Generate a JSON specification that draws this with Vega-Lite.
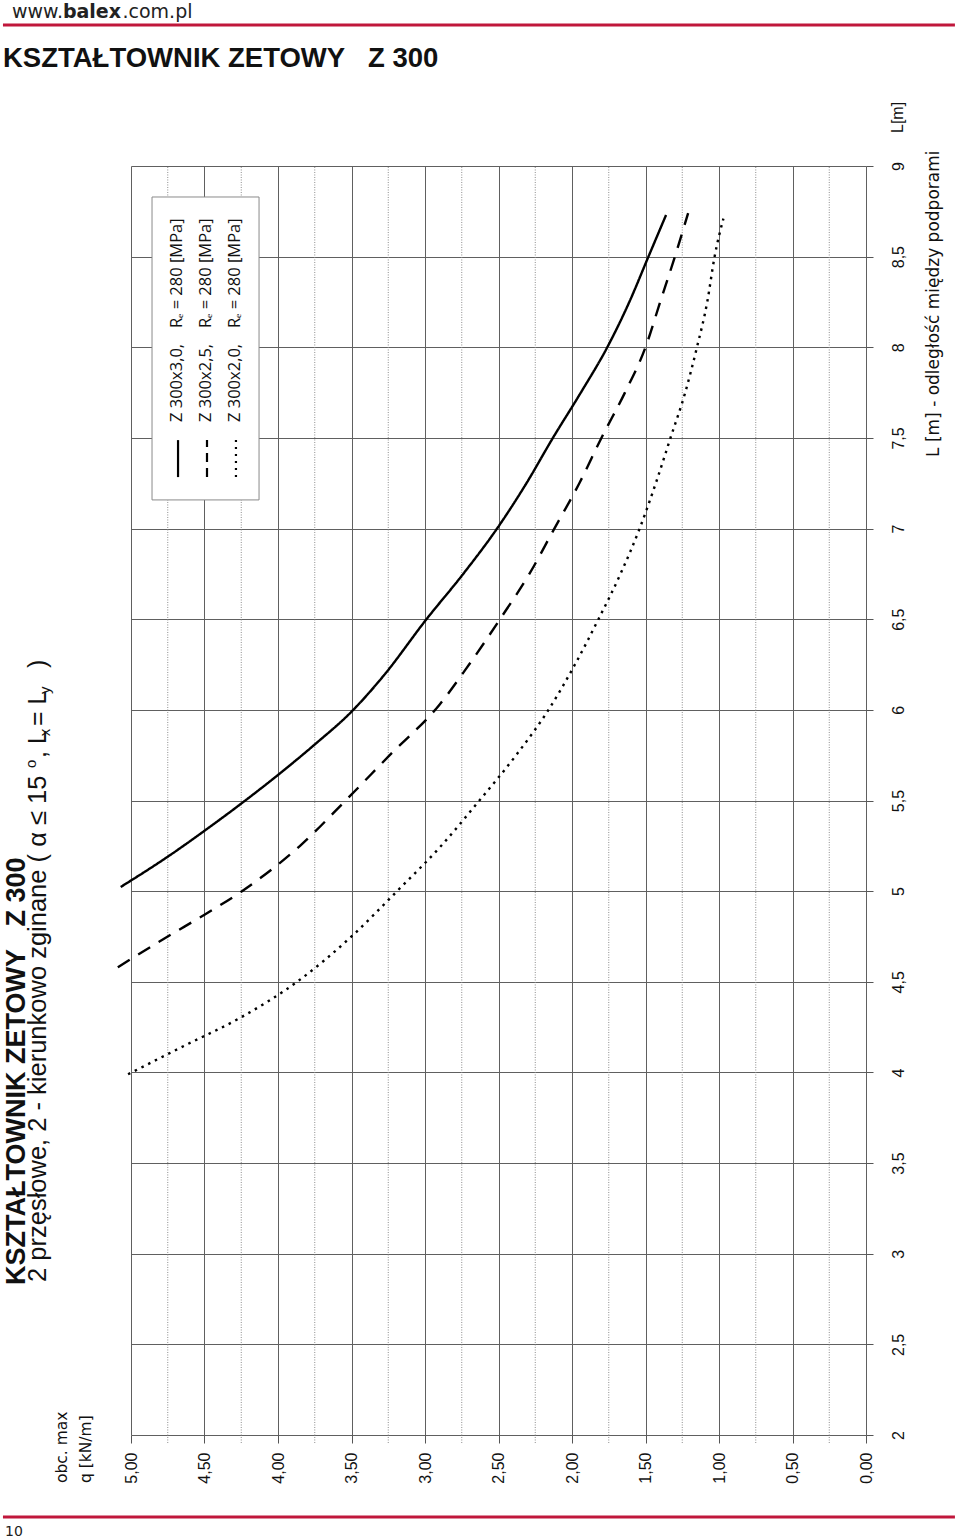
{
  "$schema": "https://vega.github.io/schema/vega-lite/v6.json",
  "width": 735,
  "height": 1269,
  "autosize": {"type": "none"},
  "padding": {"left": 131, "top": 166, "right": 94, "bottom": 105},
  "background": "white",
  "config": {"view": {"stroke": null}, "font": "Liberation Sans"},
  "datasets": {
    "curves": [
      {"series": "Z 300x3,0", "L": 5.023, "q": 5.07},
      {"series": "Z 300x3,0", "L": 5.19, "q": 4.75},
      {"series": "Z 300x3,0", "L": 5.333, "q": 4.5},
      {"series": "Z 300x3,0", "L": 5.483, "q": 4.25},
      {"series": "Z 300x3,0", "L": 5.641, "q": 4.0},
      {"series": "Z 300x3,0", "L": 5.809, "q": 3.75},
      {"series": "Z 300x3,0", "L": 5.99, "q": 3.5},
      {"series": "Z 300x3,0", "L": 6.19, "q": 3.28},
      {"series": "Z 300x3,0", "L": 6.5, "q": 2.99},
      {"series": "Z 300x3,0", "L": 6.75, "q": 2.74},
      {"series": "Z 300x3,0", "L": 7.0, "q": 2.51},
      {"series": "Z 300x3,0", "L": 7.25, "q": 2.31},
      {"series": "Z 300x3,0", "L": 7.5, "q": 2.13},
      {"series": "Z 300x3,0", "L": 7.75, "q": 1.94},
      {"series": "Z 300x3,0", "L": 8.0, "q": 1.76},
      {"series": "Z 300x3,0", "L": 8.25, "q": 1.61},
      {"series": "Z 300x3,0", "L": 8.5, "q": 1.48},
      {"series": "Z 300x3,0", "L": 8.73, "q": 1.36},
      {"series": "Z 300x2,5", "L": 4.58, "q": 5.09},
      {"series": "Z 300x2,5", "L": 4.75, "q": 4.75},
      {"series": "Z 300x2,5", "L": 4.87, "q": 4.5},
      {"series": "Z 300x2,5", "L": 5.0, "q": 4.245},
      {"series": "Z 300x2,5", "L": 5.25, "q": 3.85},
      {"series": "Z 300x2,5", "L": 5.5, "q": 3.54},
      {"series": "Z 300x2,5", "L": 5.75, "q": 3.24},
      {"series": "Z 300x2,5", "L": 6.03, "q": 2.9},
      {"series": "Z 300x2,5", "L": 6.25, "q": 2.7},
      {"series": "Z 300x2,5", "L": 6.5, "q": 2.49},
      {"series": "Z 300x2,5", "L": 6.75, "q": 2.29},
      {"series": "Z 300x2,5", "L": 7.0, "q": 2.12},
      {"series": "Z 300x2,5", "L": 7.25, "q": 1.95},
      {"series": "Z 300x2,5", "L": 7.5, "q": 1.8},
      {"series": "Z 300x2,5", "L": 7.75, "q": 1.64},
      {"series": "Z 300x2,5", "L": 8.0, "q": 1.5},
      {"series": "Z 300x2,5", "L": 8.25, "q": 1.4},
      {"series": "Z 300x2,5", "L": 8.5, "q": 1.3},
      {"series": "Z 300x2,5", "L": 8.74, "q": 1.21},
      {"series": "Z 300x2,0", "L": 3.99, "q": 5.02},
      {"series": "Z 300x2,0", "L": 4.15, "q": 4.63},
      {"series": "Z 300x2,0", "L": 4.3, "q": 4.26},
      {"series": "Z 300x2,0", "L": 4.5, "q": 3.87},
      {"series": "Z 300x2,0", "L": 4.75, "q": 3.5},
      {"series": "Z 300x2,0", "L": 5.0, "q": 3.19},
      {"series": "Z 300x2,0", "L": 5.25, "q": 2.89},
      {"series": "Z 300x2,0", "L": 5.5, "q": 2.63},
      {"series": "Z 300x2,0", "L": 5.75, "q": 2.38},
      {"series": "Z 300x2,0", "L": 6.0, "q": 2.16},
      {"series": "Z 300x2,0", "L": 6.25, "q": 1.98},
      {"series": "Z 300x2,0", "L": 6.5, "q": 1.82},
      {"series": "Z 300x2,0", "L": 6.75, "q": 1.67},
      {"series": "Z 300x2,0", "L": 7.0, "q": 1.54},
      {"series": "Z 300x2,0", "L": 7.25, "q": 1.43},
      {"series": "Z 300x2,0", "L": 7.5, "q": 1.33},
      {"series": "Z 300x2,0", "L": 7.75, "q": 1.23},
      {"series": "Z 300x2,0", "L": 8.0, "q": 1.15},
      {"series": "Z 300x2,0", "L": 8.25, "q": 1.08},
      {"series": "Z 300x2,0", "L": 8.5, "q": 1.03},
      {"series": "Z 300x2,0", "L": 8.71, "q": 0.97}
    ],
    "minorgrid": [
      {"q": 0.25}, {"q": 0.75}, {"q": 1.25}, {"q": 1.75}, {"q": 2.25},
      {"q": 2.75}, {"q": 3.25}, {"q": 3.75}, {"q": 4.25}, {"q": 4.75}
    ]
  },
  "layer": [
    {
      "data": {"name": "minorgrid"},
      "mark": {"type": "rule", "color": "#8c8c8c", "strokeWidth": 1, "strokeDash": [1, 1.5], "clip": false},
      "encoding": {
        "x": {"field": "q", "type": "quantitative"},
        "y": {"datum": 1.956, "type": "quantitative"},
        "y2": {"datum": 9}
      }
    },
    {
      "data": {"name": "curves"},
      "mark": {"type": "line", "color": "black", "strokeWidth": 2.4, "interpolate": "monotone", "clip": false},
      "encoding": {
        "x": {
          "field": "q", "type": "quantitative",
          "scale": {"domain": [0, 5], "reverse": true, "nice": false, "zero": false},
          "axis": {
            "orient": "bottom",
            "values": [0, 0.5, 1, 1.5, 2, 2.5, 3, 3.5, 4, 4.5, 5],
            "labelExpr": "replace(format(datum.value, '.2f'), '.', ',')",
            "labelAngle": 270,
            "labelFontSize": 16,
            "labelFont": "Liberation Sans",
            "labelColor": "#111111",
            "labelPadding": 9,
            "labelOverlap": false,
            "labelFlush": false,
            "tickSize": 8,
            "tickColor": "#555555",
            "grid": true,
            "gridColor": "#606060",
            "gridWidth": 1,
            "domain": false,
            "title": null
          }
        },
        "y": {
          "field": "L", "type": "quantitative",
          "scale": {"domain": [2, 9], "nice": false, "zero": false},
          "axis": {
            "orient": "right",
            "values": [2, 2.5, 3, 3.5, 4, 4.5, 5, 5.5, 6, 6.5, 7, 7.5, 8, 8.5, 9],
            "labelExpr": "replace(toString(datum.value), '.', ',')",
            "labelAngle": 270,
            "labelAlign": "center",
            "labelBaseline": "top",
            "labelFontSize": 16,
            "labelFont": "Liberation Sans",
            "labelColor": "#111111",
            "labelPadding": 17,
            "labelOverlap": false,
            "labelFlush": false,
            "tickSize": 7,
            "tickColor": "#555555",
            "grid": true,
            "gridColor": "#606060",
            "gridWidth": 1,
            "domain": false,
            "title": null
          }
        },
        "strokeDash": {
          "field": "series", "type": "nominal",
          "scale": {"domain": ["Z 300x3,0", "Z 300x2,5", "Z 300x2,0"], "range": [[1, 0], [14, 10], [2.5, 5]]},
          "legend": null
        },
        "order": {"field": "L", "type": "quantitative"}
      }
    },
    {
      "data": {"values": [{}]},
      "mark": {"type": "rect", "fill": "white", "stroke": "#8a8a8a", "strokeWidth": 1, "clip": false},
      "encoding": {
        "x": {"datum": 4.857, "type": "quantitative"}, "x2": {"datum": 4.129},
        "y": {"datum": 8.829, "type": "quantitative"}, "y2": {"datum": 7.158}
      }
    },
    {
      "data": {"values": [{}]},
      "mark": {"type": "rule", "color": "black", "strokeWidth": 2.2, "clip": false},
      "encoding": {
        "x": {"datum": 4.68, "type": "quantitative"},
        "y": {"datum": 7.284, "type": "quantitative"}, "y2": {"datum": 7.488}
      }
    },
    {
      "data": {"values": [{}]},
      "mark": {"type": "rule", "color": "black", "strokeWidth": 2.2, "strokeDash": [9, 6], "clip": false},
      "encoding": {
        "x": {"datum": 4.483, "type": "quantitative"},
        "y": {"datum": 7.284, "type": "quantitative"}, "y2": {"datum": 7.488}
      }
    },
    {
      "data": {"values": [{}]},
      "mark": {"type": "rule", "color": "black", "strokeWidth": 2.2, "strokeDash": [2, 5], "clip": false},
      "encoding": {
        "x": {"datum": 4.286, "type": "quantitative"},
        "y": {"datum": 7.284, "type": "quantitative"}, "y2": {"datum": 7.488}
      }
    },
    {
      "data": {"values": [{"t": "Z 300x3,0,"}]},
      "mark": {"type": "text", "angle": 270, "align": "left", "baseline": "alphabetic", "font": "Open Sans", "fontSize": 16.5, "color": "#111111", "clip": false},
      "encoding": {"text": {"field": "t"}, "x": {"datum": 4.653, "type": "quantitative"}, "y": {"datum": 7.588, "type": "quantitative"}}
    },
    {
      "data": {"values": [{"t": "Rₑ = 280 [MPa]"}]},
      "mark": {"type": "text", "angle": 270, "align": "left", "baseline": "alphabetic", "font": "Open Sans", "fontSize": 16.5, "color": "#111111", "clip": false},
      "encoding": {"text": {"field": "t"}, "x": {"datum": 4.653, "type": "quantitative"}, "y": {"datum": 8.106, "type": "quantitative"}}
    },
    {
      "data": {"values": [{"t": "Z 300x2,5,"}]},
      "mark": {"type": "text", "angle": 270, "align": "left", "baseline": "alphabetic", "font": "Open Sans", "fontSize": 16.5, "color": "#111111", "clip": false},
      "encoding": {"text": {"field": "t"}, "x": {"datum": 4.456, "type": "quantitative"}, "y": {"datum": 7.588, "type": "quantitative"}}
    },
    {
      "data": {"values": [{"t": "Rₑ = 280 [MPa]"}]},
      "mark": {"type": "text", "angle": 270, "align": "left", "baseline": "alphabetic", "font": "Open Sans", "fontSize": 16.5, "color": "#111111", "clip": false},
      "encoding": {"text": {"field": "t"}, "x": {"datum": 4.456, "type": "quantitative"}, "y": {"datum": 8.106, "type": "quantitative"}}
    },
    {
      "data": {"values": [{"t": "Z 300x2,0,"}]},
      "mark": {"type": "text", "angle": 270, "align": "left", "baseline": "alphabetic", "font": "Open Sans", "fontSize": 16.5, "color": "#111111", "clip": false},
      "encoding": {"text": {"field": "t"}, "x": {"datum": 4.259, "type": "quantitative"}, "y": {"datum": 7.588, "type": "quantitative"}}
    },
    {
      "data": {"values": [{"t": "Rₑ = 280 [MPa]"}]},
      "mark": {"type": "text", "angle": 270, "align": "left", "baseline": "alphabetic", "font": "Open Sans", "fontSize": 16.5, "color": "#111111", "clip": false},
      "encoding": {"text": {"field": "t"}, "x": {"datum": 4.259, "type": "quantitative"}, "y": {"datum": 8.106, "type": "quantitative"}}
    },
    {
      "data": {"values": [{"t": "www."}]},
      "mark": {"type": "text", "align": "right", "baseline": "alphabetic", "font": "DejaVu Sans", "fontSize": 19, "color": "#222222", "clip": false},
      "encoding": {"text": {"field": "t"}, "x": {"datum": 5.463, "type": "quantitative"}, "y": {"datum": 9.816, "type": "quantitative"}}
    },
    {
      "data": {"values": [{"t": "balex"}]},
      "mark": {"type": "text", "align": "left", "baseline": "alphabetic", "font": "DejaVu Sans", "fontSize": 19, "fontWeight": "bold", "color": "#222222", "clip": false},
      "encoding": {"text": {"field": "t"}, "x": {"datum": 5.463, "type": "quantitative"}, "y": {"datum": 9.816, "type": "quantitative"}}
    },
    {
      "data": {"values": [{"t": ".com.pl"}]},
      "mark": {"type": "text", "align": "left", "baseline": "alphabetic", "font": "DejaVu Sans", "fontSize": 19, "color": "#222222", "clip": false},
      "encoding": {"text": {"field": "t"}, "x": {"datum": 5.058, "type": "quantitative"}, "y": {"datum": 9.816, "type": "quantitative"}}
    },
    {
      "data": {"values": [{}]},
      "mark": {"type": "rule", "color": "#c0173b", "strokeWidth": 3, "clip": false},
      "encoding": {
        "x": {"datum": 5.871, "type": "quantitative"}, "x2": {"datum": -0.605},
        "y": {"datum": 9.778, "type": "quantitative"}
      }
    },
    {
      "data": {"values": [{}]},
      "mark": {"type": "rule", "color": "#c0173b", "strokeWidth": 3, "clip": false},
      "encoding": {
        "x": {"datum": 5.871, "type": "quantitative"}, "x2": {"datum": -0.605},
        "y": {"datum": 1.548, "type": "quantitative"}
      }
    },
    {
      "data": {"values": [{"t": "KSZTAŁTOWNIK ZETOWY\u00a0\u00a0\u00a0Z 300"}]},
      "mark": {"type": "text", "align": "left", "baseline": "alphabetic", "font": "Liberation Sans", "fontSize": 27.5, "fontWeight": "bold", "color": "#111111", "clip": false},
      "encoding": {"text": {"field": "t"}, "x": {"datum": 5.871, "type": "quantitative"}, "y": {"datum": 9.546, "type": "quantitative"}}
    },
    {
      "data": {"values": [{"t": "KSZTAŁTOWNIK ZETOWY\u00a0\u00a0\u00a0Z 300"}]},
      "mark": {"type": "text", "angle": 270, "align": "left", "baseline": "alphabetic", "font": "Liberation Sans", "fontSize": 27, "fontWeight": "bold", "color": "#111111", "clip": false},
      "encoding": {"text": {"field": "t"}, "x": {"datum": 5.721, "type": "quantitative"}, "y": {"datum": 2.827, "type": "quantitative"}}
    },
    {
      "data": {"values": [{"t": "2 przęsłowe, 2 - kierunkowo zginane ( α ≤ 15"}]},
      "mark": {"type": "text", "angle": 270, "align": "left", "baseline": "alphabetic", "font": "Liberation Sans", "fontSize": 25.5, "color": "#111111", "clip": false},
      "encoding": {"text": {"field": "t"}, "x": {"datum": 5.578, "type": "quantitative"}, "y": {"datum": 2.844, "type": "quantitative"}}
    },
    {
      "data": {"values": [{"t": "o"}]},
      "mark": {"type": "text", "angle": 270, "align": "left", "baseline": "alphabetic", "font": "Liberation Sans", "fontSize": 15, "color": "#111111", "clip": false},
      "encoding": {"text": {"field": "t"}, "x": {"datum": 5.646, "type": "quantitative"}, "y": {"datum": 5.679, "type": "quantitative"}}
    },
    {
      "data": {"values": [{"t": ", L"}]},
      "mark": {"type": "text", "angle": 270, "align": "left", "baseline": "alphabetic", "font": "Liberation Sans", "fontSize": 25, "color": "#111111", "clip": false},
      "encoding": {"text": {"field": "t"}, "x": {"datum": 5.578, "type": "quantitative"}, "y": {"datum": 5.735, "type": "quantitative"}}
    },
    {
      "data": {"values": [{"t": "x"}]},
      "mark": {"type": "text", "angle": 270, "align": "left", "baseline": "alphabetic", "font": "Liberation Sans", "fontSize": 15, "color": "#111111", "clip": false},
      "encoding": {"text": {"field": "t"}, "x": {"datum": 5.548, "type": "quantitative"}, "y": {"datum": 5.855, "type": "quantitative"}}
    },
    {
      "data": {"values": [{"t": "= L"}]},
      "mark": {"type": "text", "angle": 270, "align": "left", "baseline": "alphabetic", "font": "Liberation Sans", "fontSize": 25, "color": "#111111", "clip": false},
      "encoding": {"text": {"field": "t"}, "x": {"datum": 5.578, "type": "quantitative"}, "y": {"datum": 5.911, "type": "quantitative"}}
    },
    {
      "data": {"values": [{"t": "y"}]},
      "mark": {"type": "text", "angle": 270, "align": "left", "baseline": "alphabetic", "font": "Liberation Sans", "fontSize": 15, "color": "#111111", "clip": false},
      "encoding": {"text": {"field": "t"}, "x": {"datum": 5.548, "type": "quantitative"}, "y": {"datum": 6.087, "type": "quantitative"}}
    },
    {
      "data": {"values": [{"t": ")"}]},
      "mark": {"type": "text", "angle": 270, "align": "left", "baseline": "alphabetic", "font": "Liberation Sans", "fontSize": 25, "color": "#111111", "clip": false},
      "encoding": {"text": {"field": "t"}, "x": {"datum": 5.578, "type": "quantitative"}, "y": {"datum": 6.231, "type": "quantitative"}}
    },
    {
      "data": {"values": [{"t": "obc. max\nq [kN/m]"}]},
      "mark": {"type": "text", "angle": 270, "align": "left", "baseline": "alphabetic", "lineBreak": "\n", "lineHeight": 24, "font": "DejaVu Sans", "fontSize": 15.5, "color": "#111111", "clip": false},
      "encoding": {"text": {"field": "t"}, "x": {"datum": 5.435, "type": "quantitative"}, "y": {"datum": 1.735, "type": "quantitative"}}
    },
    {
      "data": {"values": [{"t": "L [m] - odległość między podporami"}]},
      "mark": {"type": "text", "angle": 270, "align": "left", "baseline": "alphabetic", "font": "DejaVu Sans", "fontSize": 17, "color": "#111111", "clip": false},
      "encoding": {"text": {"field": "t"}, "x": {"datum": -0.497, "type": "quantitative"}, "y": {"datum": 7.395, "type": "quantitative"}}
    },
    {
      "data": {"values": [{"t": "L[m]"}]},
      "mark": {"type": "text", "angle": 270, "align": "left", "baseline": "top", "font": "Liberation Sans", "fontSize": 16, "color": "#111111", "clip": false},
      "encoding": {"text": {"field": "t"}, "x": {"datum": -0.163, "type": "quantitative"}, "y": {"datum": 9.182, "type": "quantitative"}}
    },
    {
      "data": {"values": [{"t": "10"}]},
      "mark": {"type": "text", "align": "left", "baseline": "alphabetic", "font": "DejaVu Sans", "fontSize": 14, "color": "#222222", "clip": false},
      "encoding": {"text": {"field": "t"}, "x": {"datum": 5.857, "type": "quantitative"}, "y": {"datum": 1.442, "type": "quantitative"}}
    }
  ]
}
